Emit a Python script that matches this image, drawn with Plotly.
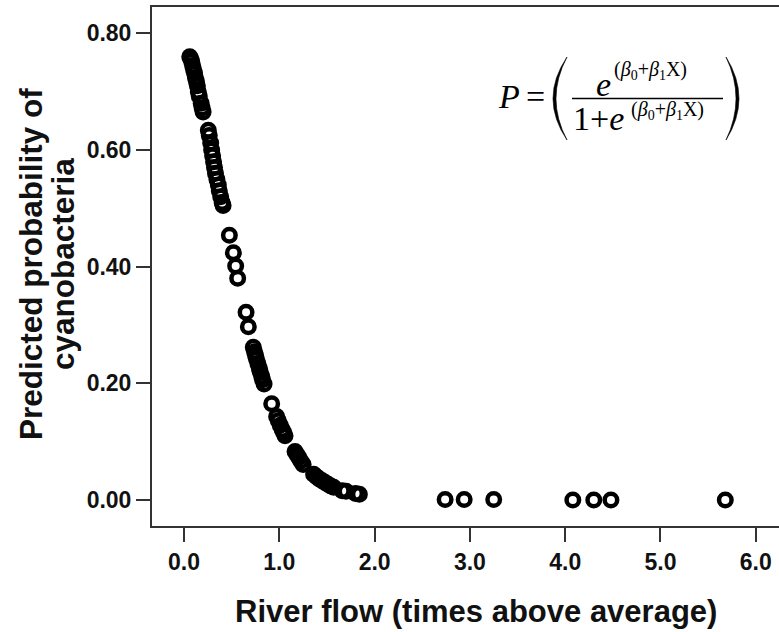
import plotly.graph_objects as go

# ---- data ----
flow = [0.06, 0.07, 0.08, 0.09, 0.10, 0.11, 0.12, 0.13, 0.14, 0.15, 0.16, 0.18, 0.19, 0.20,
        0.255, 0.265, 0.28, 0.29, 0.30, 0.31, 0.32, 0.33, 0.345, 0.36, 0.37, 0.385, 0.40, 0.41,
        0.476, 0.518, 0.542, 0.563, 0.651, 0.675,
        0.727, 0.74, 0.75, 0.76, 0.775, 0.79, 0.80, 0.815, 0.825, 0.84,
        0.92,
        0.972, 0.99, 1.01, 1.03, 1.045, 1.06,
        1.165, 1.185, 1.205, 1.225, 1.25,
        1.36, 1.39, 1.42, 1.45, 1.48, 1.51, 1.54, 1.57, 1.66, 1.70, 1.80, 1.84,
        2.74, 2.94, 3.25, 4.08, 4.30, 4.48, 5.68]
prob = [0.760, 0.757, 0.752, 0.745, 0.738, 0.732, 0.724, 0.718, 0.710, 0.700, 0.692, 0.680, 0.672, 0.665,
        0.634, 0.625, 0.612, 0.600, 0.590, 0.580, 0.570, 0.560, 0.550, 0.540, 0.530, 0.520, 0.510, 0.505,
        0.454, 0.424, 0.401, 0.380, 0.322, 0.297,
        0.262, 0.254, 0.248, 0.242, 0.234, 0.226, 0.220, 0.212, 0.206, 0.199,
        0.165,
        0.143, 0.136, 0.128, 0.121, 0.116, 0.110,
        0.083, 0.078, 0.073, 0.067, 0.061,
        0.044, 0.040, 0.036, 0.033, 0.030, 0.027, 0.024, 0.022, 0.016, 0.015, 0.011, 0.010,
        0.001, 0.001, 0.001, 0.000, 0.000, 0.000, 0.000]

x_ticks = [0, 1, 2, 3, 4, 5, 6]
x_tick_text = ["0.0", "1.0", "2.0", "3.0", "4.0", "5.0", "6.0"]
y_ticks = [0.0, 0.2, 0.4, 0.6, 0.8]
y_tick_text = ["0.00", "0.20", "0.40", "0.60", "0.80"]

x_title = "River flow (times above average)"
y_title_lines = ["Predicted probability of", "cyanobacteria"]

# ---- layout geometry (pixels) ----
# the plot frame runs past the right edge of the 779-px window, as in the reference
W_FIG, H_FIG = 800, 632
L, R, T, B = 152, 800, 7, 526
PW, PH = R - L, B - T


def px(x):
    return (x - L) / PW


def py(y):
    return (B - y) / PH


AX = "#333333"
SANS = "Liberation Sans, Arial, sans-serif"
SERIF = "Liberation Serif, Times New Roman, serif"

fig = go.Figure()
fig.add_trace(go.Scatter(
    x=flow, y=prob, mode="markers",
    marker=dict(symbol="circle-open", size=12.5, color="black",
                line=dict(width=4.5, color="black")),
    showlegend=False, hoverinfo="x+y",
))

fig.update_layout(
    width=W_FIG, height=H_FIG,
    margin=dict(l=L, r=W_FIG - R, t=T, b=H_FIG - B, pad=0),
    paper_bgcolor="white", plot_bgcolor="white",
    xaxis=dict(range=[-0.336, 6.464], tickmode="array", tickvals=x_ticks, ticktext=x_tick_text,
               showgrid=False, zeroline=False, showline=True, linecolor=AX, linewidth=2,
               mirror=True, ticks="outside", ticklen=14, tickwidth=2, tickcolor=AX,
               automargin=False,
               tickfont=dict(family=SANS, size=23, color="#111111", weight="bold")),
    yaxis=dict(range=[-0.0446, 0.8452], tickmode="array", tickvals=y_ticks, ticktext=y_tick_text,
               showgrid=False, zeroline=False, showline=True, linecolor=AX, linewidth=2,
               mirror=False, ticks="outside", ticklen=14, tickwidth=2, tickcolor=AX,
               automargin=False,
               tickfont=dict(family=SANS, size=23, color="#111111", weight="bold")),
)

ann = []
# axis titles
ann.append(dict(text=x_title, x=px(476), y=py(611), xref="paper", yref="paper",
                xanchor="center", yanchor="middle", showarrow=False,
                font=dict(family=SANS, size=31, color="#111111", weight="bold")))
for line_text, cx in zip(y_title_lines, [31, 63]):
    ann.append(dict(text=line_text, x=px(cx), y=py(264), xref="paper", yref="paper",
                    xanchor="center", yanchor="middle", showarrow=False, textangle=-90,
                    font=dict(family=SANS, size=31.5, color="#111111", weight="bold")))

# equation
ann.append(dict(text="<i>P</i>", x=px(509), y=py(96), xref="paper", yref="paper",
                xanchor="center", yanchor="middle", showarrow=False,
                font=dict(family=SERIF, size=34, color="black")))
ann.append(dict(text="=", x=px(535), y=py(96), xref="paper", yref="paper",
                xanchor="center", yanchor="middle", showarrow=False,
                font=dict(family=SERIF, size=34, color="black")))
ann.append(dict(text="<i>e</i>", x=px(603), y=py(84), xref="paper", yref="paper",
                xanchor="center", yanchor="middle", showarrow=False,
                font=dict(family=SERIF, size=34, color="black")))
sup = "(<i>β</i><sub>0</sub>+<i>β</i><sub>1</sub>X)"
ann.append(dict(text=sup, x=px(612), y=py(70), xref="paper", yref="paper",
                xanchor="left", yanchor="middle", showarrow=False,
                font=dict(family=SERIF, size=20, color="black")))
ann.append(dict(text="1+<i>e</i>", x=px(571), y=py(119), xref="paper", yref="paper",
                xanchor="left", yanchor="middle", showarrow=False,
                font=dict(family=SERIF, size=34, color="black")))
ann.append(dict(text=sup, x=px(629), y=py(110), xref="paper", yref="paper",
                xanchor="left", yanchor="middle", showarrow=False,
                font=dict(family=SERIF, size=20, color="black")))
fig.update_layout(annotations=ann)


def paren_path(xe, xo, xi, ytop, ybot):
    ym = (ytop + ybot) / 2
    cxo = 2 * xo - xe
    cxi = 2 * xi - xe
    return (f"M {px(xe)} {py(ytop)} Q {px(cxo)} {py(ym)} {px(xe)} {py(ybot)} "
            f"Q {px(cxi)} {py(ym)} {px(xe)} {py(ytop)} Z")


shapes = [
    dict(type="path", xref="paper", yref="paper", path=paren_path(567, 553, 556, 57, 140),
         fillcolor="black", line=dict(width=0.6, color="black")),
    dict(type="path", xref="paper", yref="paper", path=paren_path(726, 739, 736, 57, 140),
         fillcolor="black", line=dict(width=0.6, color="black")),
    dict(type="line", xref="paper", yref="paper", x0=px(572), x1=px(723), y0=py(98.5), y1=py(98.5),
         line=dict(width=1.5, color="black")),
]
fig.update_layout(shapes=shapes)

fig.write_html("out.html", config={"displayModeBar": False},
               post_script="document.body.style.margin='0';document.body.style.overflow='hidden';")
